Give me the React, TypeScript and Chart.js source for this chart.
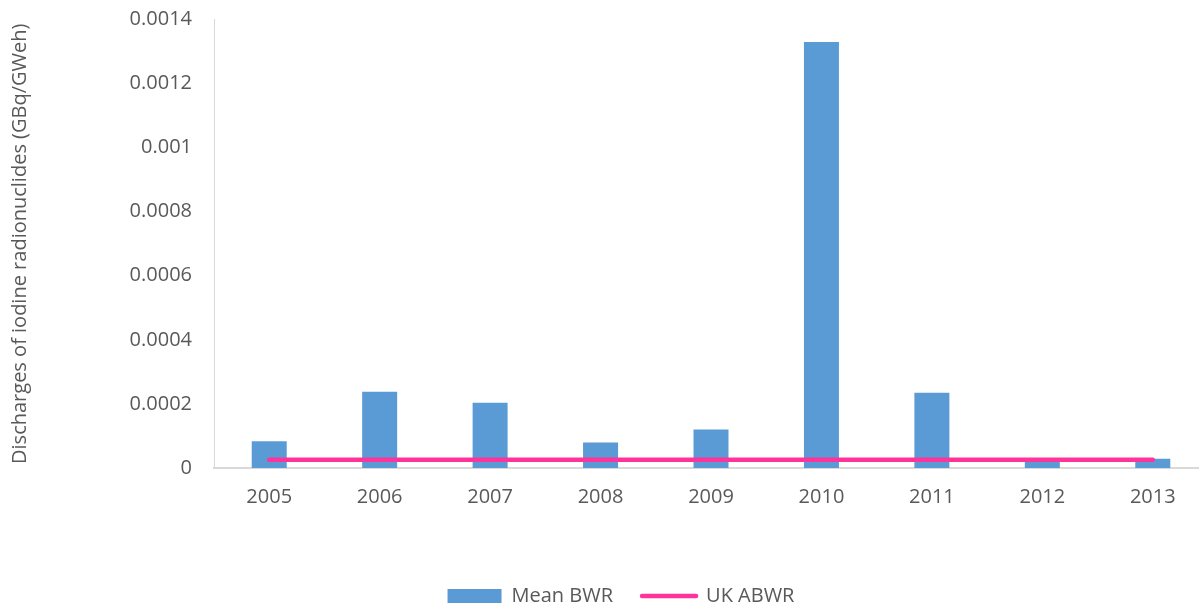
import React, { useEffect, useRef } from "react";
import { Chart, registerables } from "chart.js";

Chart.register(...registerables);

const categories = ["2005", "2006", "2007", "2008", "2009", "2010", "2011", "2012", "2013"];
const meanBWR = [0.0000838, 0.000238, 0.000204, 0.0000797, 0.00012, 0.00133, 0.000235, 0.000027, 0.0000288];
const ukABWR = [0.0000256, 0.0000256, 0.0000256, 0.0000256, 0.0000256, 0.0000256, 0.0000256, 0.0000256, 0.0000256];
const yTickValues = [0, 0.0002, 0.0004, 0.0006, 0.0008, 0.001, 0.0012, 0.0014];
const seriesNames = ["Mean BWR", "UK ABWR"];
const yTitle = "Discharges of iodine radionuclides (GBq/GWeh)";

const TEXT = "#595959";
const AXIS = "#D9D9D9";

const legendShift = {
  id: "legendShift",
  afterLayout(chart: any) {
    const lg = chart.legend;
    if (!lg) return;
    const dx = 17;
    const dy = 8;
    lg.left += dx;
    lg.right += dx;
    lg.top += dy;
    lg.bottom += dy;
  },
};

export default function App() {
  const ref = useRef<HTMLCanvasElement | null>(null);

  useEffect(() => {
    if (!ref.current) return;
    Chart.defaults.font.family = "'Open Sans', sans-serif";
    Chart.defaults.color = TEXT;
    const chart = new Chart(ref.current, {
      type: "bar",
      data: {
        labels: categories,
        datasets: [
          {
            type: "bar",
            label: seriesNames[0],
            data: meanBWR,
            backgroundColor: "#5B9BD5",
            borderWidth: 0,
            barPercentage: 0.317,
            categoryPercentage: 1,
            order: 1,
          },
          {
            type: "line",
            label: seriesNames[1],
            data: ukABWR,
            borderColor: "#FF3399",
            backgroundColor: "#FF3399",
            borderWidth: 4.5,
            borderCapStyle: "round",
            pointRadius: 0,
            tension: 0,
            order: 0,
          } as any,
        ],
      },
      options: {
        responsive: false,
        animation: false,
        devicePixelRatio: 1,
        layout: { padding: { top: 19.5, right: 0, bottom: 0, left: 0 } },
        plugins: {
          tooltip: { enabled: false },
          legend: {
            position: "bottom",
            labels: {
              usePointStyle: true,
              pointStyleWidth: 54,
              boxHeight: 14,
              padding: 29,
              color: TEXT,
              font: { size: 20 },
              generateLabels(chart: any) {
                const items = Chart.defaults.plugins.legend.labels.generateLabels(chart);
                items.sort((a: any, b: any) => a.datasetIndex - b.datasetIndex);
                return items.map((it: any) => {
                  if (it.datasetIndex === 0) {
                    return { ...it, pointStyle: "rect", lineWidth: 0, fillStyle: "#5B9BD5", strokeStyle: "#5B9BD5" };
                  }
                  return { ...it, pointStyle: "line", lineWidth: 4.5, lineCap: "round", strokeStyle: "#FF3399", fillStyle: "#FF3399" };
                });
              },
            },
          },
        },
        scales: {
          x: {
            grid: { display: false, drawTicks: false },
            border: { display: true, color: AXIS, width: 2 },
            ticks: { padding: 17, color: TEXT, font: { size: 20 }, maxRotation: 0 },
            afterFit(scale: any) {
              scale.height = 81;
            },
          },
          y: {
            min: 0,
            max: 0.0014,
            grid: { display: false, drawTicks: false },
            border: { display: true, color: AXIS, width: 1 },
            afterBuildTicks(scale: any) {
              scale.ticks = yTickValues.map((v) => ({ value: v }));
            },
            ticks: {
              padding: 22,
              color: TEXT,
              font: { size: 20 },
              callback: (v: any) => String(parseFloat(Number(v).toFixed(4))),
            },
            title: {
              display: true,
              text: yTitle,
              color: TEXT,
              font: { size: 20 },
              padding: { top: 8, bottom: 0 },
            },
            afterFit(scale: any) {
              scale.width = 214;
              scale.paddingTop = 0;
              scale.paddingBottom = 0;
            },
          },
        },
      },
      plugins: [legendShift],
    });
    return () => chart.destroy();
  }, []);

  return (
    <div style={{ position: "absolute", left: 0, top: 0, width: 1199, height: 608, overflow: "hidden", background: "#fff" }}>
      <canvas ref={ref} width={1208} height={608} style={{ display: "block" }} />
    </div>
  );
}
